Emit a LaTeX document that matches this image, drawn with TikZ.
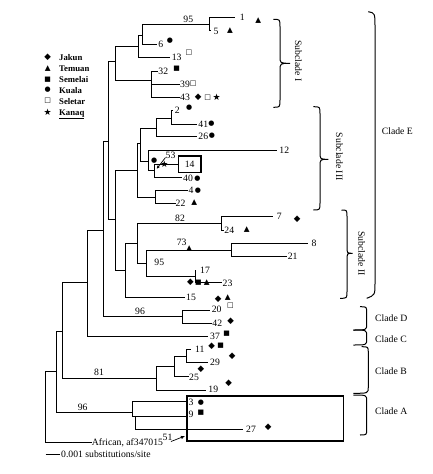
\documentclass[tikz,border=0pt]{standalone}
\usepackage{fontspec}
\setmainfont{Liberation Serif}
\newfontfamily\dvsans{DejaVu Sans}
\usetikzlibrary{arrows.meta}
\newcommand\tlabfont{\fontsize{9.7}{11}\selectfont}
\newcommand\tlegfont{\bfseries\fontsize{8.7}{10}\selectfont}
\newcommand\sD{{\dvsans\fontsize{8.6}{9}\selectfont ◆}}
\newcommand\sT{{\dvsans\fontsize{7.5}{8}\selectfont ▲}}
\newcommand\sS{{\dvsans\fontsize{6.9}{7}\selectfont ■}}
\newcommand\sK{{\dvsans\fontsize{7}{7}\selectfont ●}}
\newcommand\sL{{\dvsans\fontsize{7}{7}\selectfont □}}
\newcommand\sQ{{\dvsans\fontsize{9}{10}\selectfont ★}}
\begin{document}
\begin{tikzpicture}[x=1pt,y=-1pt,
  br/.style={line width=0.85pt},
  brc/.style={line width=1pt},
  lab/.style={inner sep=0pt,text height=6.5pt,text depth=0pt,font=\tlabfont},
  leg/.style={inner sep=0pt,text height=6.2pt,text depth=0pt,font=\tlegfont,anchor=west},
  sym/.style={inner sep=0pt},
  boxs/.style={draw,line width=1.6pt,inner sep=0pt}]
\useasboundingbox (0,0) rectangle (433,474);
% ---------- legend
\node[sym] (lgJ) at (47.7,57.7) {\sD}; \node[leg] (lgJt) at (59,57.7) {Jakun};
\node[sym] (lgT) at (47.7,68.3) {\sT}; \node[leg] (lgTt) at (59,68.3) {Temuan};
\node[sym] (lgS) at (47.7,79.3) {\sS}; \node[leg] (lgSt) at (59,79.3) {Semelai};
\node[sym] (lgK) at (47.7,90) {\sK}; \node[leg] (lgKt) at (59,90) {Kuala};
\node[sym] (lgL) at (47.7,101) {\sL}; \node[leg] (lgLt) at (59,101) {Seletar};
\node[sym] (lgQ) at (47.7,112) {\sQ}; \node[leg] (lgQt) at (59,112) {\underline{Kanaq}};
% ---------- internal nodes
\coordinate (R) at (45.5,407);
\coordinate (N1) at (56.7,371);
\coordinate (N2) at (62.7,331.7);
\coordinate (N3) at (87.3,282.3);
\coordinate (N4) at (103,230);
\coordinate (NE) at (108.3,141.7);
\coordinate (NI) at (115,61.7);
\coordinate (NIa) at (138.3,46);
\coordinate (NIb) at (142.7,35);
\coordinate (N95) at (209.3,24.3);
\coordinate (NIc) at (151.7,80);
\coordinate (NIIIII) at (115,219.3);
\coordinate (NIII) at (137.7,170);
\coordinate (NIIIa) at (140,143.3);
\coordinate (N2g) at (156.7,128.3);
\coordinate (N241) at (171.7,118.3);
\coordinate (N53g) at (148.3,161);
\coordinate (N53) at (154.3,170);
\coordinate (N422) at (155,197.3);
\coordinate (NII) at (125,270);
\coordinate (NIIa) at (137.7,243.3);
\coordinate (N82) at (221.7,223.3);
\coordinate (NIIb) at (146.7,263.3);
\coordinate (N73) at (231.7,250);
\coordinate (N17) at (195,276.7);
\coordinate (ND) at (182.7,316.7);
\coordinate (NB) at (156.7,378.3);
\coordinate (NBa) at (174,366.7);
\coordinate (NBb) at (186.7,356.7);
\coordinate (NA) at (132.7,412.7);
\coordinate (NAa) at (135,416.7);
% ---------- leaf ends
\coordinate (l1) at (235,17.3);
\coordinate (l5) at (211,30);
\coordinate (l6) at (156.7,44.3);
\coordinate (l13) at (170,57.3);
\coordinate (l32) at (158,71.7);
\coordinate (l39) at (180,84);
\coordinate (l43) at (180,97.3);
\coordinate (l2) at (173,110);
\coordinate (l41) at (196.7,124);
\coordinate (l26) at (197,136);
\coordinate (l12) at (276.7,150);
\coordinate (l40) at (182,177.5);
\coordinate (l4) at (187.5,190);
\coordinate (l22) at (175.5,203.3);
\coordinate (l7) at (273.3,216.7);
\coordinate (l24) at (223.5,230);
\coordinate (l8) at (308.3,243.3);
\coordinate (l21) at (286.7,256.7);
\coordinate (l17) at (195,270);
\coordinate (l23) at (221.7,282.7);
\coordinate (l15) at (185,297);
\coordinate (l20) at (210,310);
\coordinate (l42) at (211.5,323.3);
\coordinate (l37) at (208.3,336.7);
\coordinate (l11) at (191,349.3);
\coordinate (l29) at (208.3,362.3);
\coordinate (l25) at (189,376.7);
\coordinate (l19) at (206,390);
\coordinate (l3) at (186,401.5);
\coordinate (l9) at (186,416.7);
\coordinate (l27) at (243.3,429.3);
% ---------- boxes
\node[boxs,lab,minimum width=22.5pt,minimum height=16.7pt] (b14) at (189.7,164.2) {14};
\node[boxs,minimum width=156.7pt,minimum height=45.1pt] (boxA) at (265.15,418.35) {};
% ---------- labels
\node[lab] (t1) at (242.3,17.3) {1};
\node[lab] (t5) at (216,31.7) {5};
\node[lab] (t6) at (160.7,44.3) {6};
\node[lab] (t13) at (176.7,57.3) {13};
\node[lab] (t32) at (163.3,71.7) {32};
\node[lab] (t39) at (185,84) {39};
\node[lab] (t43) at (185,97.3) {43};
\node[lab] (t2) at (177.3,110) {2};
\node[lab] (t41) at (203.3,124) {41};
\node[lab] (t26) at (203.3,136) {26};
\node[lab] (t12) at (284.3,150) {12};
\node[lab] (t40) at (188,178) {40};
\node[lab] (t4) at (191,190.3) {4};
\node[lab] (t22) at (180.5,202.8) {22};
\node[lab] (t7) at (279.3,216.7) {7};
\node[lab] (t24) at (229.3,230) {24};
\node[lab] (t8) at (314,243.3) {8};
\node[lab] (t21) at (292.7,256.7) {21};
\node[lab] (t17) at (205,270) {17};
\node[lab] (t23) at (227.5,283) {23};
\node[lab] (t15) at (191,297) {15};
\node[lab] (t20) at (216.7,309.5) {20};
\node[lab] (t42) at (217.3,323.3) {42};
\node[lab] (t37) at (215,336.5) {37};
\node[lab] (t11) at (199.7,349.5) {11};
\node[lab] (t29) at (215,362.5) {29};
\node[lab] (t25) at (194,377) {25};
\node[lab] (t19) at (213.3,389.5) {19};
\node[lab] (t3) at (191,402) {3};
\node[lab] (t9) at (191,414.5) {9};
\node[lab] (t27) at (251,429.3) {27};
\node[lab,anchor=west] (afr) at (91.7,442.7) {African, af347015};
% ---------- support values
\node[lab] (s95a) at (188.3,19.3) {95};
\node[lab] (s82) at (180,218) {82};
\node[lab] (s73) at (181.7,242.7) {73};
\node[lab] (s95b) at (159.3,262.7) {95};
\node[lab] (s96a) at (140,311.7) {96};
\node[lab] (s81) at (99,372.7) {81};
\node[lab] (s96b) at (82.7,407.7) {96};
\node[lab] (s53) at (170.5,155) {53};
\node[lab] (s51) at (167.5,437) {51};
% ---------- branches
\foreach \p/\c in {R/N1,R/afr.west,N1/N2,N1/NA,N2/N3,N2/NB,N3/N4,N3/l37,
  N4/NE,N4/ND,NE/NI,NE/NIIIII,NI/NIa,NI/NIc,NIa/NIb,NIa/l13,NIb/N95,NIb/l6,
  N95/l1,N95/l5,NIc/l32,NIc/l39,NIc/l43,NIIIII/NIII,NIIIII/NII,
  NIII/NIIIa,NIII/N422,NIIIa/N2g,NIIIa/N53g,N2g/N241,N2g/l26,N241/l2,N241/l41,
  N53g/l12,N53g/N53,N53/b14.west,N53/l40,N422/l4,N422/l22,
  NII/NIIa,NII/l15,NIIa/N82,NIIa/NIIb,N82/l7,N82/l24,NIIb/N73,NIIb/N17,
  N73/l8,N73/l21,N17/l17,N17/l23,ND/l20,ND/l42,NB/NBa,NB/l19,NBa/NBb,NBa/l25,
  NBb/l11,NBb/l29,NA/l3,NA/NAa,NAa/l9,NAa/l27}
  \draw[br] (\p) |- (\c);
% ---------- arrows
\coordinate (a53s) at (165.5,157.5);
\coordinate (a53e) at (156.5,169);
\draw[line width=0.7pt,-{Latex[length=3.5pt,width=3pt]}] (a53s) -- (a53e);
\coordinate (a51s) at (171,441.5);
\coordinate (a51e) at (185,436);
\draw[line width=0.7pt,-{Latex[length=4pt,width=3.5pt]}] (a51s) -- (a51e);
% ---------- symbols
\node[sym] at (258.3,20.7) {\sT};
\node[sym] at (230,31) {\sT};
\node[sym] at (170,41) {\sK};
\node[sym] at (189,52.7) {\sL};
\node[sym] at (176.7,68.3) {\sS};
\node[sym] at (193.3,83.3) {\sL};
\node[sym] at (198.3,97.3) {\sD};
\node[sym] at (207.7,97.3) {\sL};
\node[sym] at (216.7,97.3) {\sQ};
\node[sym] at (189.3,107.3) {\sK};
\node[sym] at (211.5,124) {\sK};
\node[sym] at (212,136) {\sK};
\node[sym] at (154.3,160.7) {\sK};
\node[sym] at (164.5,163.8) {\sQ};
\node[sym] at (197.5,178.3) {\sK};
\node[sym] at (198,190.5) {\sK};
\node[sym] at (194.3,202.5) {\sT};
\node[sym] at (297.3,219.3) {\sD};
\node[sym] at (246.7,230) {\sT};
\node[sym] at (189.3,248.5) {\sT};
\node[sym] at (190.5,282.7) {\sD};
\node[sym] at (198.5,282.7) {\sS};
\node[sym] at (206.7,282.3) {\sT};
\node[sym] at (218.3,299.5) {\sD};
\node[sym] at (227.8,297.3) {\sT};
\node[sym] at (230.4,305.5) {\sL};
\node[sym] at (230.7,321.7) {\sD};
\node[sym] at (226.7,333.3) {\sS};
\node[sym] at (211.7,346.7) {\sD};
\node[sym] at (220.7,346) {\sS};
\node[sym] at (232.3,356.7) {\sD};
\node[sym] at (201,369.5) {\sD};
\node[sym] at (228.7,383.3) {\sD};
\node[sym] at (201,402.3) {\sK};
\node[sym] at (201,413) {\sS};
\node[sym] at (268.2,427) {\sD};
% ---------- braces
\draw[brc] (273.3,19.3) .. controls (280,19.3) .. (280,27) -- (280,56) .. controls (280,63.3) .. (290,63.3)
  .. controls (280,63.3) .. (280,70.6) -- (280,99.6) .. controls (280,107.3) .. (273.3,107.3);
\draw[brc] (313.3,106.7) .. controls (320,106.7) .. (320,114) -- (320,152) .. controls (320,159.3) .. (328.3,159.3)
  .. controls (320,159.3) .. (320,166.6) -- (320,202.7) .. controls (320,210) .. (313.3,210);
\draw[brc] (341.5,210) .. controls (347,210) .. (347,217) -- (347,246.3) .. controls (347,253.3) .. (352.5,253.3)
  .. controls (347,253.3) .. (347,260.3) -- (347,291.3) .. controls (347,298.3) .. (340,298.3);
\draw[brc] (368.3,11.7) .. controls (375,13) .. (375,28) -- (375,283) .. controls (375,295) .. (366.7,298.3);
\draw[brc] (360,306.7) .. controls (366.7,306.7) .. (366.7,313) -- (366.7,324) .. controls (366.7,330) .. (353.3,330);
\draw[brc] (353.3,330) .. controls (366.7,330) .. (366.7,336) -- (366.7,339) .. controls (366.7,345) .. (353.3,345);
\draw[brc] (361.7,346.7) .. controls (368.3,346.7) .. (368.3,353) -- (368.3,387) .. controls (368.3,393.3) .. (353.3,393.3);
\draw[brc] (353.3,395) .. controls (366.7,395) .. (366.7,401) -- (366.7,429) .. controls (366.7,435) .. (360,435);
% ---------- clade labels
\node[lab,rotate=-90] (cI) at (298.3,61) {Subclade I};
\node[lab,rotate=-90] (cIII) at (339.3,156.7) {Subclade III};
\node[lab,rotate=-90] (cII) at (361.7,253.3) {Subclade II};
\node[lab,anchor=west] (cE) at (381.7,131.7) {Clade E};
\node[lab,anchor=west] (cD) at (375,318.3) {Clade D};
\node[lab,anchor=west] (cC) at (375,339.3) {Clade C};
\node[lab,anchor=west] (cB) at (375,371.7) {Clade B};
\node[lab,anchor=west] (cA) at (375,411) {Clade A};
% ---------- scale bar
\coordinate (sb1) at (45.7,454.3);
\coordinate (sb2) at (60,454.3);
\draw[br] (sb1) -- (sb2);
\node[lab,anchor=west] (sbt) at (61,454.3) {0.001 substitutions/site};
\end{tikzpicture}
\end{document}
